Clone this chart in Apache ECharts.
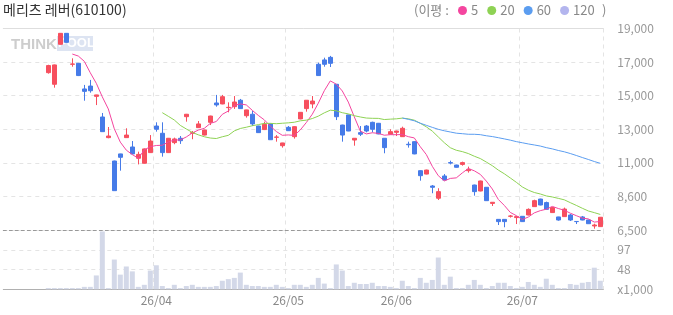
<!DOCTYPE html>
<html>
<head>
<meta charset="utf-8">
<script src="https://cdn.jsdelivr.net/npm/echarts@6/dist/echarts.min.js"></script>
<style>
  html, body { margin: 0; padding: 0; background: #fff; }
  #chart { width: 673px; height: 315px; }
</style>
</head>
<body>
<div id="chart"></div>
<script>
// 메리츠 레버(610100) - daily candles with moving averages and volume

// trading days per month (2026)
const marDays = [6, 9, 10, 11, 12, 13, 16, 17, 18, 19, 20, 23, 24, 25, 26, 27, 30, 31];
const aprDays = [1, 2, 3, 6, 7, 8, 9, 10, 13, 14, 15, 16, 17, 20, 21, 22, 23, 24, 27, 28, 29, 30];
const mayDays = [4, 6, 7, 8, 11, 12, 13, 14, 15, 18, 19, 20, 21, 22, 26, 27, 28, 29];
const junDays = [1, 2, 4, 5, 8, 9, 10, 11, 12, 15, 16, 17, 18, 19, 22, 23, 24, 25, 26, 29, 30];
const julDays = [1, 2, 3, 6, 7, 8, 9, 10, 13, 14, 15, 16, 17, 20];

const opens = [16260, 15540, 18020, 18700, 16780, 16840, 15250, 15430, 14790, 13510,
  12230, 10780, 11220, 12230, 11650, 10950, 10640, 11300, 12950, 12500,
  11300, 11920, 12190, 13530, 12500, 12850, 12390, 13180, 14380, 14320,
  14090, 14150, 14550, 13590, 13680, 12950, 12730, 13080, 12250, 11730,
  12870, 12290, 13390, 14030, 14320, 16780, 17050, 17210, 15540, 13010,
  13640, 12080, 12540, 12950, 13180, 13120, 12190, 12440, 12560, 12290,
  11820, 11980, 10180, 9970, 9230, 8470, 9850, 10680, 10530, 10570,
  10180, 9290, 8920, 9150, 8150, 7160, 7160, 7350, 7270, 7350,
  7430, 7950, 8420, 8200, 7580, 7310, 7330, 7430, 7030, 7310,
  7120, 6750, 6710];
const closes = [16700, 16740, 18700, 18140, 16800, 16080, 15100, 15140, 14880, 12600,
  12330, 8940, 11010, 12390, 11220, 11190, 11530, 12020, 12750, 11300,
  12190, 12150, 12040, 13680, 12540, 13080, 12700, 13570, 14260, 14770,
  14110, 14440, 14030, 13950, 13080, 12540, 13060, 12100, 12270, 11900,
  12660, 12910, 13800, 14550, 14500, 16080, 16780, 16840, 13530, 12390,
  12640, 12190, 12440, 12640, 12750, 12460, 11610, 12600, 12640, 12810,
  11790, 11220, 9870, 10220, 9150, 8880, 9600, 10650, 10390, 10680,
  10260, 8880, 9540, 8320, 8220, 7020, 7020, 7370, 7330, 7020,
  7780, 8320, 8050, 7780, 7890, 7120, 7800, 7120, 7020, 7120,
  6890, 6810, 7290];
const lows = [16200, 15330, 18000, 18130, 16630, 16050, 14520, 15020, 14250, 12590,
  12190, 8930, 10180, 12210, 11200, 10570, 10620, 11280, 12600, 11050,
  11280, 11820, 11840, 13220, 12130, 12830, 12370, 13010, 14150, 14300,
  13800, 14010, 14010, 13470, 12950, 12520, 12700, 12090, 11980, 11610,
  12650, 12170, 13370, 13840, 14050, 16060, 16630, 16610, 13320, 11980,
  12630, 11730, 12330, 12560, 12560, 12440, 11260, 12420, 12330, 12270,
  11610, 11200, 9560, 9950, 8780, 8360, 9580, 10570, 10370, 10490,
  10060, 8630, 8900, 8300, 7990, 6810, 6670, 7270, 6870, 7000,
  7410, 7930, 8030, 7760, 7560, 7080, 7310, 7060, 6870, 7100,
  6880, 6580, 6690];
const highs = [16750, 16760, 18720, 18720, 17150, 16860, 15500, 15810, 14890, 13760,
  12890, 10800, 11230, 12810, 12020, 11360, 11560, 12390, 13180, 13180,
  12210, 12230, 12330, 13700, 12640, 13260, 12720, 13590, 14880, 14880,
  14420, 14810, 14630, 13960, 13880, 12970, 13220, 13100, 12390, 11910,
  12950, 12930, 13820, 14560, 14810, 16880, 17190, 17300, 15560, 13030,
  13650, 12200, 12950, 13010, 13220, 13140, 12200, 12750, 12660, 12910,
  11980, 12000, 10200, 10240, 9290, 9090, 9970, 10800, 10550, 10740,
  10430, 9310, 9560, 9160, 8230, 7180, 7180, 7430, 7340, 7360,
  7840, 8380, 8440, 8260, 7900, 7320, 7890, 7490, 7040, 7370,
  7140, 6890, 7300];
// volume, thousands of shares
const volumes = [3, 3, 3, 3, 3, 3, 6, 6, 34, 142,
  3, 73, 36, 56, 44, 6, 11, 46, 59, 8,
  3, 11, 3, 8, 11, 6, 6, 6, 8, 21,
  25, 28, 41, 11, 8, 8, 6, 6, 11, 6,
  3, 11, 11, 6, 11, 28, 14, 3, 61, 46,
  8, 16, 13, 13, 16, 8, 8, 6, 3, 21,
  8, 3, 28, 16, 23, 78, 11, 31, 3, 3,
  11, 23, 11, 3, 8, 16, 16, 8, 3, 6,
  18, 11, 6, 26, 11, 3, 3, 13, 11, 16,
  18, 53, 21];

const maPeriods = [5, 20, 60, 120];
const maColors = ['#f4459f', '#8ed254', '#5b9df0', '#b3b5ee'];
const priceTickLabels = ['6,500', '8,600', '11,000', '13,000', '15,000', '17,000', '19,000'];
const volumeTickLabels = ['x1,000', '48', '97', ''];

const UP = '#f74f5e';
const DOWN = '#467be8';
const FONT = '"Noto Sans CJK KR", "Noto Sans", sans-serif';
const LEAD_SLOTS = 7; // empty slots before the first session

function buildCategories() {
    const months = [['03', marDays], ['04', aprDays], ['05', mayDays], ['06', junDays], ['07', julDays]];
    const cats = [];
    for (let i = 0; i < LEAD_SLOTS; i++) cats.push('slot' + i);
    months.forEach(([mm, days]) => {
        days.forEach(d => cats.push('2026/' + mm + '/' + String(d).padStart(2, '0')));
    });
    return cats;
}

function movingAverage(values, n) {
    return values.map((v, i) => {
        if (i < n - 1) return '-';
        let sum = 0;
        for (let j = i - n + 1; j <= i; j++) sum += values[j];
        return Math.round(sum / n);
    });
}

const categories = buildCategories();
const lead = new Array(LEAD_SLOTS).fill('-');

// first session of each month after the first one
function isMonthStart(index) {
    if (index <= LEAD_SLOTS) return false;
    const cur = categories[index], prev = categories[index - 1];
    return cur.slice(5, 7) !== prev.slice(5, 7);
}

const candleData = lead.concat(opens.map((o, i) => [o, closes[i], lows[i], highs[i]]));
const volumeData = lead.concat(volumes);

const maSeries = maPeriods.map((n, k) => ({
    name: String(n),
    type: 'line',
    xAxisIndex: 0,
    yAxisIndex: 0,
    data: lead.concat(movingAverage(closes, n)),
    symbol: 'none',
    showSymbol: false,
    smooth: false,
    itemStyle: { color: maColors[k] },
    lineStyle: { color: maColors[k], width: 1 },
    z: 3
}));

const gridSplit = { show: true, lineStyle: { color: '#e4e4e4', type: [4, 4], width: 1 } };

const chart = echarts.init(document.getElementById('chart'));
chart.setOption({
    animation: false,
    textStyle: { fontFamily: FONT },
    title: {
        text: '메리츠 레버(610100)',
        left: 3, top: 3, padding: 0,
        textStyle: { fontSize: 14, fontWeight: 'normal', color: '#333', fontFamily: FONT }
    },
    legend: {
        data: maPeriods.map(String),
        left: 458, top: 4, padding: 0,
        icon: 'circle', itemWidth: 9, itemHeight: 9, itemGap: 9,
        selectedMode: false,
        textStyle: { color: '#888', fontSize: 13, fontFamily: FONT, padding: [0, 0, 0, -1] }
    },
    graphic: [
        { type: 'text', left: 414, top: 4, style: { text: '(이평 :', fill: '#888', font: '13px ' + FONT } },
        { type: 'text', left: 602, top: 4, style: { text: ')', fill: '#888', font: '13px ' + FONT } },
        { type: 'text', left: 11, top: 37, z: 0, style: { text: 'THINK', fill: '#cdcdcd', font: 'bold 15px "Liberation Sans", sans-serif' } },
        { type: 'rect', left: 57, top: 36, z: 0, shape: { width: 36, height: 15 }, style: { fill: '#dde4f2' } },
        { type: 'text', left: 58, top: 37, z: 0, style: { text: 'POOL', fill: '#ffffff', font: 'bold 13px "Liberation Sans", sans-serif' } }
    ],
    grid: [
        { left: 3.3, top: 28.5, width: 600, height: 201.5 },
        { left: 3.3, top: 230, width: 600, height: 59.3 }
    ],
    xAxis: [
        {
            type: 'category', gridIndex: 0, data: categories, boundaryGap: true,
            axisLine: { lineStyle: { color: '#999', type: [3, 3] } },
            axisTick: { show: false }, axisLabel: { show: false },
            splitLine: { show: true, interval: isMonthStart, lineStyle: { color: '#e4e4e4', type: [4, 4] } }
        },
        {
            type: 'category', gridIndex: 1, data: categories, boundaryGap: true,
            axisLine: { lineStyle: { color: '#b0b0b0' } },
            axisTick: { show: false },
            axisLabel: {
                interval: isMonthStart, margin: 5, color: '#888', fontSize: 12, fontFamily: FONT,
                formatter: v => '26/' + v.slice(5, 7)
            },
            splitLine: { show: true, interval: isMonthStart, lineStyle: { color: '#e4e4e4', type: [4, 4] } }
        },
        {
            type: 'category', gridIndex: 0, position: 'top', data: categories, boundaryGap: true,
            axisLine: { lineStyle: { color: '#dedede' } },
            axisTick: { show: false }, axisLabel: { show: false }, splitLine: { show: false }
        }
    ],
    yAxis: [
        { type: 'value', gridIndex: 0, min: 6500, max: 19000, show: false, splitLine: { show: false } },
        {
            type: 'value', gridIndex: 0, min: 0, max: 6, interval: 1, position: 'right',
            axisLine: { show: false }, axisTick: { show: false },
            axisLabel: { margin: 14, color: '#999', fontSize: 12, fontFamily: FONT, formatter: v => priceTickLabels[v] },
            splitLine: gridSplit
        },
        {
            type: 'value', gridIndex: 1, min: 0, max: 145.5, interval: 48.5, position: 'right',
            axisLine: { show: false }, axisTick: { show: false },
            axisLabel: {
                margin: 14, color: '#999', fontSize: 12, fontFamily: FONT,
                formatter: v => volumeTickLabels[Math.round(v / 48.5)]
            },
            splitLine: gridSplit
        }
    ],
    series: [
        {
            name: 'price',
            type: 'candlestick',
            xAxisIndex: 0, yAxisIndex: 0,
            data: candleData,
            barWidth: 5,
            itemStyle: { color: UP, color0: DOWN, borderColor: UP, borderColor0: DOWN, borderWidth: 1 },
            z: 2
        },
        ...maSeries,
        {
            name: 'volume',
            type: 'bar',
            xAxisIndex: 1, yAxisIndex: 2,
            data: volumeData,
            barWidth: 5,
            itemStyle: { color: '#d3d8e8' }
        }
    ]
});
</script>
</body>
</html>
